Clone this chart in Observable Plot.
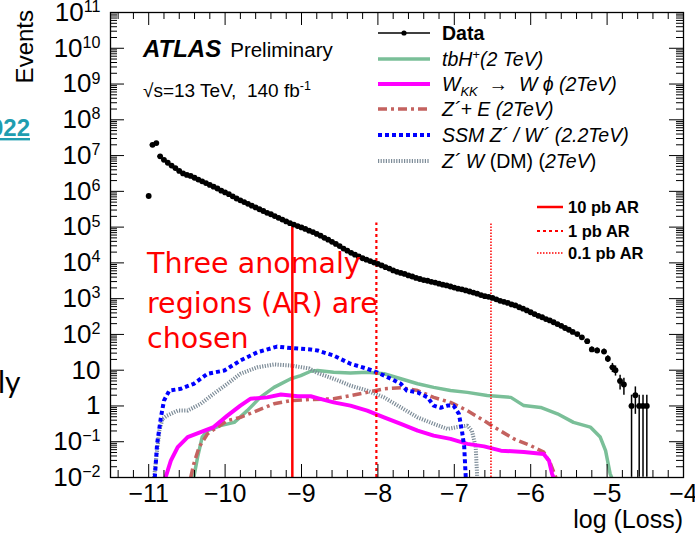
<!DOCTYPE html>
<html><head><meta charset="utf-8">
<script src="https://cdn.jsdelivr.net/npm/d3@7"></script>
<script src="https://cdn.jsdelivr.net/npm/@observablehq/plot@0.6"></script>
<style>
body{margin:0;background:#fff;}
#chart{width:695px;height:538px;position:relative;}
</style>
</head><body><div id="chart"></div>
<script>
// ---------- data (x = log(Loss), values = log10(Events)) ----------
const dataX = [-11.00,-10.95,-10.90,
 -10.85,-10.80,-10.75,-10.70,-10.65,-10.60,-10.55,-10.50,-10.45,-10.40,-10.35,-10.30,-10.25,-10.20,-10.15,-10.10,-10.05,-10.00,
 -9.95,-9.90,-9.85,-9.80,-9.75,-9.70,-9.65,-9.60,-9.55,-9.50,-9.45,-9.40,-9.35,-9.30,-9.25,-9.20,-9.15,-9.10,-9.05,-9.00,
 -8.95,-8.90,-8.85,-8.80,-8.75,-8.70,-8.65,-8.60,-8.55,-8.50,-8.45,-8.40,-8.35,-8.30,-8.25,-8.20,-8.15,-8.10,-8.05,-8.00,
 -7.95,-7.90,-7.85,-7.80,-7.75,-7.70,-7.65,-7.60,-7.55,-7.50,-7.45,-7.40,-7.35,-7.30,-7.25,-7.20,-7.15,-7.10,-7.05,-7.00,
 -6.95,-6.90,-6.85,-6.80,-6.75,-6.70,-6.65,-6.60,-6.55,-6.50,-6.45,-6.40,-6.35,-6.30,-6.25,-6.20,-6.15,-6.10,-6.05,-6.00,
 -5.95,-5.90,-5.85,-5.80,-5.75,-5.70,-5.65,-5.60,-5.55,-5.50,-5.45,
 -5.39,-5.33,-5.26,-5.20,-5.13,-5.04,-4.99,-4.93,-4.89,-4.83,-4.78,
 -4.68,-4.63,-4.58,-4.53,-4.48];
const dataLog10 = [5.87,7.30,7.35,
 6.98,6.88,6.80,6.72,6.65,6.57,6.50,6.46,6.43,6.38,6.33,6.28,6.23,6.18,6.13,6.08,6.02,5.97,
 5.92,5.86,5.80,5.75,5.70,5.65,5.60,5.55,5.50,5.45,5.40,5.36,5.31,5.26,5.21,5.16,5.11,5.07,5.03,4.99,
 4.95,4.90,4.86,4.81,4.76,4.70,4.65,4.59,4.53,4.47,4.40,4.34,4.28,4.23,4.18,4.13,4.09,4.05,4.01,3.97,
 3.93,3.88,3.84,3.79,3.75,3.72,3.69,3.65,3.62,3.58,3.55,3.52,3.50,3.47,3.45,3.42,3.39,3.37,3.34,3.31,
 3.28,3.26,3.23,3.20,3.17,3.14,3.10,3.07,3.05,3.02,2.98,2.94,2.91,2.88,2.84,2.81,2.76,2.72,2.67,2.62,
 2.57,2.52,2.48,2.43,2.39,2.34,2.29,2.24,2.18,2.13,2.07,
 2.01,1.92,1.81,1.58,1.55,1.52,1.32,1.08,1.00,0.70,0.60,
 0.00,0.30,0.00,0.00,0.00];

const tbhX    = [-10.41,-10.36,-10.30,-10.23,-10.06,-9.88,-9.71,-9.54,-9.36,-9.14,-9.01,-8.88,-8.79,-8.58,-8.36,-8.14,-7.92,-7.70,-7.48,-7.27,-7.05,-6.83,-6.57,-6.26,-6.09,-5.87,-5.65,-5.44,-5.22,-5.09,-5.02,-4.96,-4.94];
const tbhLog  = [-2.00,-1.43,-0.87,-0.69,-0.55,-0.46,-0.13,0.24,0.52,0.76,0.85,0.97,0.99,0.94,0.92,0.94,0.90,0.76,0.62,0.52,0.43,0.38,0.29,0.24,0.01,-0.04,-0.22,-0.46,-0.59,-0.87,-1.25,-1.90,-2.00];

const wkkX    = [-10.78,-10.71,-10.62,-10.49,-10.32,-10.15,-9.97,-9.80,-9.67,-9.45,-9.27,-9.05,-8.88,-8.79,-8.58,-8.36,-8.14,-7.92,-7.70,-7.48,-7.27,-7.05,-6.83,-6.61,-6.39,-6.09,-5.83,-5.76,-5.72,-5.70];
const wkkLog  = [-2.00,-1.53,-1.15,-0.87,-0.73,-0.59,-0.27,0.01,0.20,0.24,0.32,0.27,0.27,0.22,0.10,0.01,-0.13,-0.32,-0.50,-0.69,-0.83,-0.92,-1.06,-1.13,-1.25,-1.29,-1.34,-1.53,-1.90,-2.00];

const zeX     = [-10.45,-10.41,-10.34,-10.23,-10.10,-9.97,-9.80,-9.58,-9.36,-9.14,-8.88,-8.58,-8.14,-7.92,-7.70,-7.48,-7.27,-7.05,-6.83,-6.61,-6.48,-6.22,-6.00,-5.83,-5.74,-5.67];
const zeLog   = [-2.00,-1.62,-1.15,-0.78,-0.59,-0.41,-0.32,-0.13,0.06,0.15,0.18,0.20,0.38,0.48,0.51,0.43,0.24,0.10,-0.13,-0.41,-0.59,-0.92,-1.11,-1.29,-1.62,-2.00];

const ssmX    = [-10.92,-10.89,-10.84,-10.80,-10.73,-10.58,-10.41,-10.23,-10.01,-9.80,-9.58,-9.32,-9.14,-8.88,-8.79,-8.58,-8.36,-8.14,-8.01,-7.83,-7.70,-7.62,-7.48,-7.35,-7.27,-7.18,-7.09,-7.01,-6.94,-6.90,-6.87,-6.85];
const ssmLog  = [-2.00,-1.06,-0.32,0.15,0.43,0.48,0.62,0.90,0.99,1.27,1.50,1.66,1.62,1.58,1.55,1.41,1.18,1.04,0.94,0.76,0.62,0.43,0.38,0.24,0.01,-0.05,0.01,0.01,-0.22,-0.69,-1.15,-2.00];

const dmX     = [-10.93,-10.91,-10.86,-10.82,-10.76,-10.62,-10.49,-10.32,-10.15,-9.97,-9.80,-9.58,-9.36,-9.14,-8.90,-8.79,-8.58,-8.36,-8.14,-7.92,-7.70,-7.48,-7.27,-7.09,-6.96,-6.83,-6.77,-6.72,-6.70];
const dmLog   = [-2.00,-1.62,-0.69,-0.36,-0.27,-0.13,-0.13,0.06,0.34,0.62,0.90,1.08,1.16,1.13,1.05,0.92,0.76,0.57,0.43,0.24,-0.04,-0.32,-0.50,-0.64,-0.59,-0.55,-0.69,-1.15,-2.00];

// anomaly-region thresholds and their extent
const arX     = [-9.12, -8.02, -6.52];
const arNames = ["10 pb AR", "1 pb AR", "0.1 pb AR"];
const arTop   = 1.3e5;

// axes
const xTicks = [-11,-10,-9,-8,-7,-6,-5,-4];
const xTickLabels = ["−11","−10","−9","−8","−7","−6","−5","−4"];
const yTicks = [1e-2,1e-1,1,10,1e2,1e3,1e4,1e5,1e6,1e7,1e8,1e9,1e10,1e11];
const yTickBase = ["10","10","1","10","10","10","10","10","10","10","10","10","10","10"];
const yTickExp  = ["−2","−1","","","2","3","4","5","6","7","8","9","10","11"];

// ---------- build ----------
const FONT = "'Liberation Sans', Arial, Helvetica, sans-serif";
const W = 695, H = 538, mL = 110, mR = 12, mT = 12, mB = 61;
const fw = W - mL - mR, fh = H - mT - mB;

const pts = dataX.map((x, i) => {
  const n = Math.pow(10, dataLog10[i]);
  const e = Math.sqrt(n);
  return {x, y: n, lo: Math.max(n - e, 0.0101), hi: n + e};
});
const toRows = (xs, ls) => xs.map((x, i) => ({x, y: Math.pow(10, ls[i])}));

const xMinor = d3.range(-11.4, -4.05, 0.2).map(v => +v.toFixed(2)).filter(v => Math.abs(v - Math.round(v)) > 1e-6);
const yMinor = [];
for (let d = -2; d < 11; d++) for (let k = 2; k <= 9; k++) yMinor.push(k * Math.pow(10, d));

const arRows = arX.map((x, i) => ({x, name: arNames[i]}));

const COL = {tbh: "#7abf98", wkk: "#ff00ff", ze: "#c4625f", ssm: "#0000ff", dm: "#7d8c98"};
const lineOpts = {x: "x", y: "y", clip: true, strokeLinecap: "butt", strokeLinejoin: "round"};

const plot = Plot.plot({
  width: W, height: H,
  marginLeft: mL, marginRight: mR, marginTop: mT, marginBottom: mB,
  style: {fontFamily: FONT, background: "white", color: "black", overflow: "visible"},
  x: {domain: [-11.5, -4]},
  y: {type: "log", domain: [1e-2, 1e11]},
  marks: [
    // signal curves
    Plot.line(toRows(tbhX, tbhLog), {...lineOpts, stroke: COL.tbh, strokeWidth: 3.5}),
    Plot.line(toRows(dmX, dmLog), {...lineOpts, stroke: COL.dm, strokeWidth: 4, strokeDasharray: "1.2,1.4"}),
    Plot.line(toRows(zeX, zeLog), {...lineOpts, stroke: COL.ze, strokeWidth: 3.5, strokeDasharray: "9,4,3,4"}),
    Plot.line(toRows(wkkX, wkkLog), {...lineOpts, stroke: COL.wkk, strokeWidth: 4}),
    Plot.line(toRows(ssmX, ssmLog), {...lineOpts, stroke: COL.ssm, strokeWidth: 4, strokeDasharray: "4,3"}),
    // anomaly regions
    Plot.ruleX(arRows.slice(0,1), {x: "x", y1: 1e-2, y2: arTop, stroke: "#ff0000", strokeWidth: 2.5}),
    Plot.ruleX(arRows.slice(1,2), {x: "x", y1: 1e-2, y2: arTop, stroke: "#ff0000", strokeWidth: 2.2, strokeDasharray: "3,3"}),
    Plot.ruleX(arRows.slice(2,3), {x: "x", y1: 1e-2, y2: arTop, stroke: "#ff0000", strokeWidth: 1.5, strokeDasharray: "1.5,1.5"}),
    // data
    Plot.ruleX(pts, {x: "x", y1: "lo", y2: "hi", stroke: "black", strokeWidth: 1.5, clip: true}),
    Plot.ruleY(pts, {y: "y", x1: d => d.x - 0.03, x2: d => d.x + 0.03, stroke: "black", strokeWidth: 1.5}),
    Plot.dot(pts, {x: "x", y: "y", r: 2.9, fill: "black", stroke: "none"}),
    // frame & inner ticks (all four sides)
    Plot.ruleX(xTicks.slice(0, -1), {x: d => d, insetTop: fh - 13, stroke: "black"}),
    Plot.ruleX(xMinor, {x: d => d, insetTop: fh - 7, stroke: "black"}),
    Plot.ruleX(xTicks.slice(0, -1), {x: d => d, insetBottom: fh - 13, stroke: "black"}),
    Plot.ruleX(xMinor, {x: d => d, insetBottom: fh - 7, stroke: "black"}),
    Plot.ruleY(yTicks, {y: d => d, insetRight: fw - 14, stroke: "black"}),
    Plot.ruleY(yMinor, {y: d => d, insetRight: fw - 7, stroke: "black"}),
    Plot.ruleY(yTicks, {y: d => d, insetLeft: fw - 14, stroke: "black"}),
    Plot.ruleY(yMinor, {y: d => d, insetLeft: fw - 7, stroke: "black"}),
    Plot.frame({stroke: "black", strokeWidth: 1.3}),
    // tick labels
    Plot.axisX(xTicks, {anchor: "bottom", tickSize: 0, tickPadding: 7, fontSize: 25, label: null,
      tickFormat: d => xTickLabels[xTicks.indexOf(d)]}),
    Plot.axisY(yTicks, {anchor: "left", tickSize: 0, tickPadding: 10, fontSize: 26, label: null,
      tickFormat: d => { const i = yTicks.indexOf(d); return yTickBase[i] + "|" + yTickExp[i]; }})
  ]
});
document.getElementById("chart").appendChild(plot);

// superscript exponents in the y tick labels
plot.querySelectorAll('[aria-label="y-axis tick label"] text').forEach(t => {
  const [base, exp] = t.textContent.split("|");
  t.textContent = "";
  const ns = "http://www.w3.org/2000/svg";
  const b = document.createElementNS(ns, "tspan"); b.textContent = base; t.appendChild(b);
  if (exp) {
    const s = document.createElementNS(ns, "tspan");
    s.setAttribute("dy", "-0.55em"); s.setAttribute("font-size", "0.62em"); s.textContent = exp;
    t.appendChild(s);
  }
});

// ---------- annotations ----------
const svg = d3.select(plot);
const g = svg.append("g").attr("font-family", FONT).attr("fill", "black").attr("text-anchor", "start");

// axis titles
g.append("text").attr("transform", "translate(33,10) rotate(-90)").attr("text-anchor", "end")
  .attr("font-size", 24).text("Events");
g.append("text").attr("x", 683).attr("y", 528).attr("text-anchor", "end").attr("font-size", 25).text("log (Loss)");

// ATLAS label
const at = g.append("text").attr("x", 143).attr("y", 57);
at.append("tspan").attr("font-weight", "bold").attr("font-style", "italic").attr("font-size", 24).text("ATLAS");
at.append("tspan").attr("font-size", 20.5).attr("dx", 9).text("Preliminary");
const cm = g.append("text").attr("x", 143).attr("y", 97).attr("font-size", 19).style("white-space", "pre");
cm.append("tspan").text("√s=13 TeV,  140 fb");
cm.append("tspan").attr("dy", -7).attr("font-size", 12.5).text("-1");

// main legend
const lx0 = 378, lx1 = 430, tx = 442;
const legRows = [33, 59, 84, 109, 135, 161];
const L = g.append("g");
L.append("line").attr("x1", lx0).attr("x2", lx1).attr("y1", legRows[0]).attr("y2", legRows[0]).attr("stroke", "black").attr("stroke-width", 1.5);
L.append("circle").attr("cx", (lx0 + lx1) / 2).attr("cy", legRows[0]).attr("r", 2.6).attr("fill", "black");
const styles = [
  null,
  {stroke: COL.tbh, w: 3.5, dash: null},
  {stroke: COL.wkk, w: 4, dash: null},
  {stroke: COL.ze, w: 3.5, dash: "9,4,3,4"},
  {stroke: COL.ssm, w: 4, dash: "4,3"},
  {stroke: COL.dm, w: 4, dash: "1.2,1.4"}
];
styles.forEach((s, i) => {
  if (!s) return;
  L.append("line").attr("x1", lx0).attr("x2", lx1).attr("y1", legRows[i]).attr("y2", legRows[i])
    .attr("stroke", s.stroke).attr("stroke-width", s.w).attr("stroke-dasharray", s.dash);
});
const lt = i => L.append("text").attr("x", tx).attr("y", legRows[i] + 6.5).attr("font-size", 19.5).style("white-space", "pre");
lt(0).attr("font-weight", "bold").text("Data");
{ const t = lt(1).attr("font-style", "italic");
  t.append("tspan").text("tbH"); t.append("tspan").attr("dy", -7).attr("font-size", 13).text("+");
  t.append("tspan").attr("dy", 7).text("(2 TeV)"); }
{ const t = lt(2).attr("font-style", "italic");
  t.append("tspan").text("W"); t.append("tspan").attr("dy", 5).attr("font-size", 13).text("KK");
  t.append("tspan").attr("dy", -5).attr("font-style", "normal").text("  →  ");
  t.append("tspan").text("W ϕ (2TeV)"); }
lt(3).attr("font-style", "italic").text("Z´+ E (2TeV)");
lt(4).attr("font-style", "italic").text("SSM Z´ / W´ (2.2TeV)");
{ const t = lt(5).attr("font-style", "italic");
  t.append("tspan").text("Z´ W "); t.append("tspan").attr("font-style", "normal").text("(DM) (");
  t.append("tspan").text("2TeV"); t.append("tspan").attr("font-style", "normal").text(")"); }

// AR legend
const arRowsY = [207, 231, 253];
const arStyles = [{w: 2.5, dash: null}, {w: 2.2, dash: "3,3"}, {w: 1.5, dash: "1.5,1.5"}];
arRowsY.forEach((y, i) => {
  g.append("line").attr("x1", 537).attr("x2", 563).attr("y1", y).attr("y2", y)
    .attr("stroke", "#ff0000").attr("stroke-width", arStyles[i].w).attr("stroke-dasharray", arStyles[i].dash);
  g.append("text").attr("x", 568).attr("y", y + 6).attr("font-size", 16.5).attr("font-weight", "bold").text(arNames[i]);
});

// slide overlay annotation
const red = g.append("g").attr("fill", "#ff0000").attr("font-family", "'DejaVu Sans', sans-serif").attr("font-size", 28.5);
red.append("text").attr("x", 147).attr("y", 273).text("Three anomaly");
red.append("text").attr("x", 147).attr("y", 313).text("regions (AR) are");
red.append("text").attr("x", 147).attr("y", 348).text("chosen");

// fragments of the surrounding slide
g.append("text").attr("x", 30).attr("y", 136).attr("text-anchor", "end").attr("font-size", 24)
  .attr("font-weight", "bold").attr("fill", "#1f9db0").attr("text-decoration", "underline").text("022");
g.append("text").attr("x", -2).attr("y", 393).attr("font-size", 30).attr("font-family", "Lato, sans-serif").text("ly");
</script>
</body></html>
